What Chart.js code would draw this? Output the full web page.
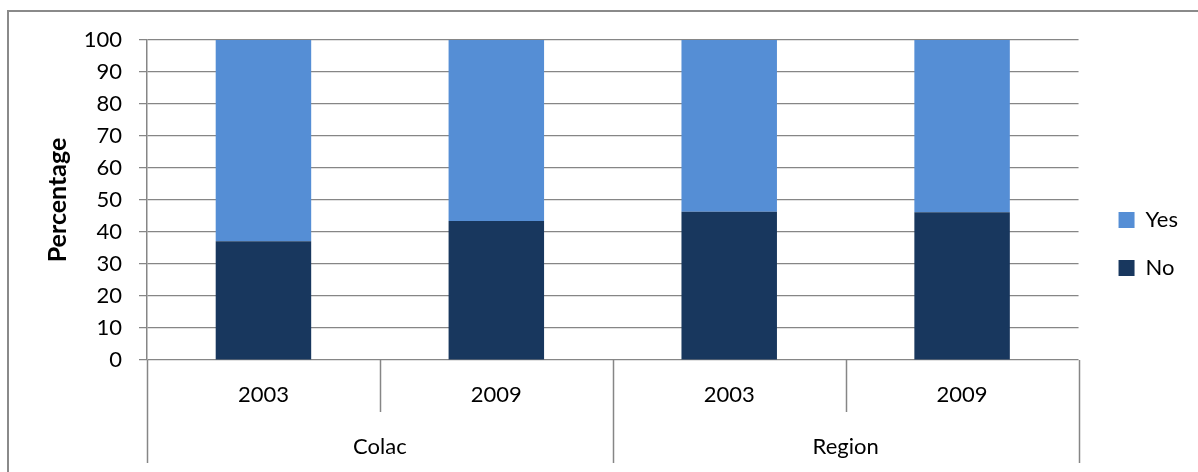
<!DOCTYPE html>
<html>
<head>
<meta charset="utf-8">
<script src="https://cdn.jsdelivr.net/npm/chart.js@4/dist/chart.umd.min.js"></script>
<style>
  html, body { margin:0; padding:0; background:#ffffff; }
  #wrap { position:relative; width:1198px; height:472px; overflow:hidden; }
  #frame { position:absolute; left:7px; top:10px; width:1400px; height:700px; border:2px solid #8a8a8a; box-sizing:border-box; }
  #chart { position:absolute; left:0; top:0; }
</style>
</head>
<body>
<div id="wrap">
  <div id="frame"></div>
  <canvas id="chart" width="1198" height="472"></canvas>
</div>
<script>

// ==========================================
// Survey response by area and year
// ==========================================

const years = ["2003", "2009", "2003", "2009"];
const areas = ["Colac", "Region"];
const noValues = [37.1, 43.4, 46.3, 46.2];
const yesValues = [62.9, 56.6, 53.7, 53.8];
const yTicks = [0, 10, 20, 30, 40, 50, 60, 70, 80, 90, 100];

const GRID = "#868686";
const FONT = "Lato";

Chart.defaults.color = "#000000";
Chart.defaults.font.family = FONT;

// separators below the category axis
const categoryDividers = {

    id:"categoryDividers",

    afterDraw(chart){

        const x = chart.scales.x;
        const area = chart.chartArea;
        const ctx = chart.ctx;
        const n = years.length;
        const step = (x.getPixelForTick(1) - x.getPixelForTick(0));

        ctx.save();
        ctx.strokeStyle = GRID;
        ctx.lineWidth = 1.5;

        for(let i = 0; i <= n; i++){

            const px = x.getPixelForTick(0) + (i - 0.5) * step;
            const groupEdge = (i % 2 === 0);
            const bottom = groupEdge ? area.bottom + 103 : area.bottom + 52;

            ctx.beginPath();
            ctx.moveTo(Math.round(px) + 0.5, area.bottom);
            ctx.lineTo(Math.round(px) + 0.5, bottom);
            ctx.stroke();

        }

        ctx.restore();

    }

};

// move the legend block a little right and down from its default slot
const legendNudge = {

    id:"legendNudge",

    afterLayout(chart){

        const lg = chart.legend;
        if(!lg) return;

        lg.left += 14;
        lg.right += 14;
        lg.top += 44;
        lg.bottom += 44;

    }

};

new Chart(

    document.getElementById("chart"),

    {

        type:"bar",

        data:{

            labels:years,

            datasets:[

                {
                    label:"No",
                    data:noValues,
                    backgroundColor:"#18375E",
                    barPercentage:0.41,
                    categoryPercentage:1
                },

                {
                    label:"Yes",
                    data:yesValues,
                    backgroundColor:"#558ED5",
                    barPercentage:0.41,
                    categoryPercentage:1
                }

            ]

        },

        options:{

            responsive:false,

            animation:false,

            layout:{
                padding:{ left:0, top:40, right:24, bottom:0 }
            },

            plugins:{

                legend:{
                    position:"right",
                    fullSize:false,
                    reverse:true,
                    align:"center",
                    labels:{
                        boxWidth:16,
                        boxHeight:16,
                        padding:26,
                        font:{ size:22 }
                    }
                },

                tooltip:{ enabled:false }

            },

            scales:{

                x:{
                    stacked:true,
                    grid:{ display:false },
                    border:{ display:false },
                    ticks:{ font:{ size:22 }, padding:14 },
                    afterFit(scale){ scale.height = 52; }
                },

                x2:{
                    type:"category",
                    labels:areas,
                    position:"bottom",
                    offset:true,
                    grid:{ display:false },
                    border:{ display:false },
                    ticks:{ font:{ size:22 }, padding:14 },
                    afterFit(scale){ scale.height = 60; }
                },

                y:{
                    stacked:true,
                    min:0,
                    max:100,
                    afterBuildTicks(scale){
                        scale.ticks = yTicks.map(v => ({ value:v }));
                    },
                    grid:{
                        color:GRID,
                        lineWidth:1.25,
                        tickLength:8
                    },
                    border:{ color:GRID, width:1.5 },
                    ticks:{ font:{ size:22 }, padding:17 },
                    title:{
                        display:true,
                        text:"Percentage",
                        font:{ size:25, weight:"bold" },
                        padding:{ top:43, bottom:0 }
                    },
                    afterFit(scale){ scale.width = 147; }
                }

            }

        },

        plugins:[categoryDividers, legendNudge]

    }

);

</script>
</body>
</html>
